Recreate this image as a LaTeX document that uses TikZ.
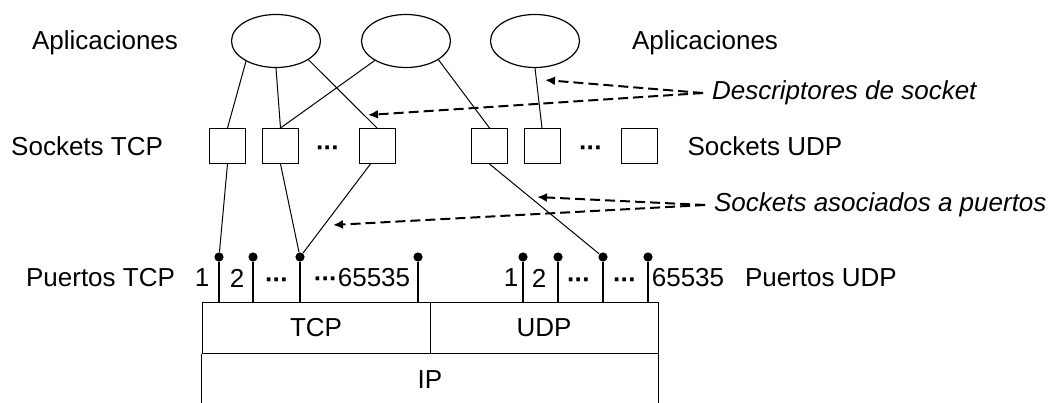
\documentclass[tikz,border=0pt]{standalone}
\usepackage{fontspec}
\setmainfont{Liberation Sans}
\usetikzlibrary{arrows.meta,positioning,shapes.geometric}
\newcommand{\puntos}{\raisebox{-0.4pt}{\bfseries\textperiodcentered\kern-0.5pt\textperiodcentered\kern-0.5pt\textperiodcentered}}

\begin{document}
\fontsize{13}{15}\selectfont
\begin{tikzpicture}[>=Latex,x=0.5pt,y=-0.5pt]
  \tikzstyle{app}=[draw,ellipse,line width=0.6pt,minimum width=44.5pt,minimum height=26.5pt,inner sep=0pt]
  \tikzstyle{sock}=[draw,line width=0.5pt,minimum width=18pt,minimum height=17.5pt,inner sep=0pt]
  \tikzstyle{port}=[circle,fill,inner sep=0pt,minimum size=4.6pt]
  \tikzstyle{layer}=[draw,line width=0.5pt,minimum width=114pt,minimum height=25.5pt,inner sep=0pt]
  \tikzstyle{link}=[line width=0.5pt]
  \tikzstyle{pin}=[line width=1.2pt]
  \tikzstyle{note}=[line width=1pt,dash pattern=on 5pt off 2.5pt,-{Latex[length=5pt,width=4.5pt]}]
  \useasboundingbox (0,0) rectangle (1048,402);

  % aplicaciones
  \node[app] (app1) at (276,41) {};
  \node[app] (app2) at (406,41) {};
  \node[app] (app3) at (535,41) {};
  \node (aplizq) at (105,43) {Aplicaciones};
  \node (aplder) at (705,43) {Aplicaciones};

  % sockets
  \node[sock] (tcp1) at (227.5,146) {};
  \node[sock] (tcp2) at (280.5,146) {};
  \node[anchor=base] (tcpdots) at (328,155.3) {\puntos};
  \node[sock] (tcp3) at (377,146) {};
  \node[sock] (udp1) at (489.5,146) {};
  \node[sock] (udp2) at (542,146) {};
  \node[anchor=base] (udpdots) at (591,155.3) {\puntos};
  \node[sock] (udp3) at (639,146) {};
  \node[left=18.5pt of tcp1] (socktcp) {Sockets TCP};
  \node[right=10.5pt of udp3] (sockudp) {Sockets UDP};

  % capas
  \node[layer] (tcp) at (316,327.5) {TCP};
  \node[layer] (udp) at (544,327.5) {UDP};
  \node (ip) at (430,380) {IP};
  \draw[link] (tcp.south west) -- +(0,49);
  \draw[link] (udp.south east) -- +(0,49);

  % puertos
  \node[port] (pt1) at (219,257) {};
  \node[port] (pt2) at (253,257) {};
  \node[port] (pt3) at (300,257) {};
  \node[port] (pt4) at (418,257) {};
  \node[port] (pu1) at (523,257) {};
  \node[port] (pu2) at (558,257) {};
  \node[port] (pu3) at (603,257) {};
  \node[port] (pu4) at (648,257) {};
  \draw[pin] (pt1) -- (pt1 |- tcp.north) (pt2) -- (pt2 |- tcp.north)
             (pt3) -- (pt3 |- tcp.north) (pt4) -- (pt4 |- tcp.north);
  \draw[pin] (pu1) -- (pu1 |- udp.north) (pu2) -- (pu2 |- udp.north)
             (pu3) -- (pu3 |- udp.north) (pu4) -- (pu4 |- udp.north);
  \node (lt1) at (202,278) {1};
  \node (lt2) at (237,278) {2};
  \node[anchor=base] (ltd) at (277,287.3) {\puntos};
  \node (ltmax) at (362,278) {\puntos 65535};
  \node (lu1) at (511,278) {1};
  \node (lu2) at (539,278) {2};
  \node[anchor=base] (lud) at (579,287.3) {\puntos};
  \node[anchor=base] (lud2) at (625,287.3) {\puntos};
  \node (lumax) at (688,278) {65535};
  \node[anchor=east] (puertostcp) at (184,278) {Puertos TCP};
  \node[anchor=west] (puertosudp) at (736,278) {Puertos UDP};

  % enlaces
  \draw[link] (app1.214) -- (tcp1.north);
  \draw[link] (app1.south) -- (tcp2.north);
  \draw[link] (app1.330) -- (tcp3.north);
  \draw[link] (app2.212) -- (tcp2.north);
  \draw[link] (app2.330) -- (udp1.north);
  \draw[link] (app3.south) -- (udp2.north);
  \draw[link] (tcp1.south) -- (pt1);
  \draw[link] (tcp2.south) -- (pt3);
  \draw[link] (tcp3.-110) -- (pt3);
  \draw[link] (udp1.south) -- (pu3);

  % notas
  \node[anchor=west,font=\itshape] (desc) at (703,93) {Descriptores de socket};
  \node[anchor=west,font=\itshape] (asoc) at (705,205) {Sockets asociados a puertos};
  \coordinate (descA) at (545,80);
  \coordinate (descB) at (368,115);
  \coordinate (asocA) at (537,197);
  \coordinate (asocB) at (333,225);
  \draw[note] (desc.west) -- (descA);
  \draw[note] (desc.west) -- (descB);
  \draw[note] (asoc.west) -- (asocA);
  \draw[note] (asoc.west) -- (asocB);
\end{tikzpicture}
\end{document}
